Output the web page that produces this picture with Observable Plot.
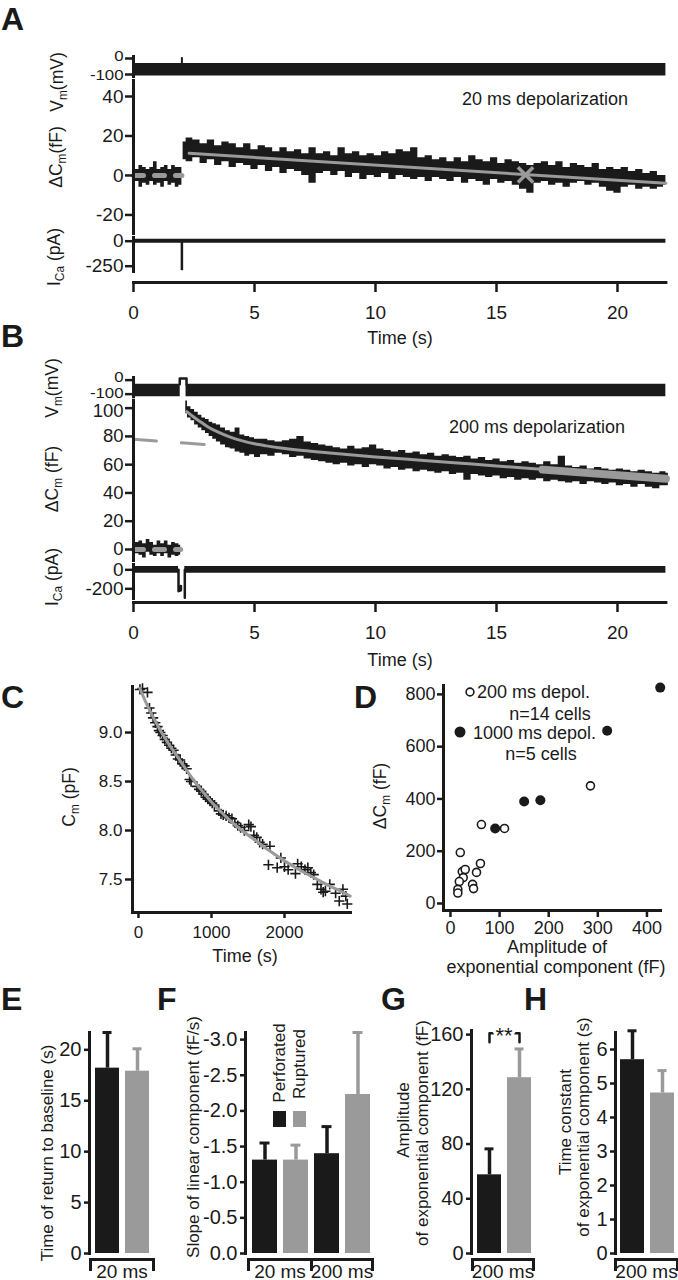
<!DOCTYPE html>
<html><head><meta charset="utf-8">
<script src="https://cdn.jsdelivr.net/npm/d3@7"></script>
<script src="https://cdn.jsdelivr.net/npm/@observablehq/plot@0.6"></script>
<style>
body{margin:0;background:#fff;}
#fig{position:relative;width:678px;height:1280px;overflow:hidden;font-family:"Liberation Sans",Arial,Helvetica,sans-serif;color:#1a1a1a;background:#fff;}
.lbl{position:absolute;white-space:nowrap;line-height:1;}
.lbl sub{font-size:0.68em;vertical-align:-0.3em;line-height:0;}
.sq{position:absolute;}
</style></head>
<body><div id="fig"></div>
<script>
// ---------------- DATA ----------------
const timeTicks = [0, 5, 10, 15, 20];
// Panel A (20 ms depolarization)
const vmA = [[0, -110, -32], [22, -110, -32]];
const vmSpikeA = [[2.0, -40, 5]];
const cmBaseA = [[0,-5,4],[0.15,-3,3],[0.3,-6,5],[0.45,-4,4],[0.6,-5,3],[0.75,-3,4],[0.9,-5,7],[1.05,-4,3],[1.2,-6,4],[1.35,-3,5],[1.5,-5,3],[1.65,-4,5],[1.8,-6,4],[1.95,-5,4],[2.0,-5,4]];
const cmPostA = [[2.05,8,17],[2.3,7,19],[2.6,9,18],[2.9,6,16],[3.2,8,18],[3.5,5,15],[3.8,7,17],[4.1,4,16],[4.4,6,14],[4.7,5,16],[5.0,3,13],[5.3,5,15],[5.6,2,14],[5.9,4,12],[6.2,1,14],[6.5,3,12],[6.8,2,13],[7.1,0,11],[7.4,-4,14],[7.7,1,11],[8.0,2,12],[8.3,0,10],[8.6,2,14],[8.9,-1,11],[9.2,1,12],[9.5,-2,10],[9.8,0,11],[10.1,-1,10],[10.4,1,12],[10.7,-2,11],[11.0,0,13],[11.3,-1,12],[11.6,-2,14],[11.9,-1,9],[12.2,-3,10],[12.5,-1,8],[12.8,-2,9],[13.1,-3,7],[13.4,-1,9],[13.7,-4,7],[14.0,-2,10],[14.3,-3,8],[14.6,-5,7],[14.9,-2,9],[15.2,-4,6],[15.5,-3,8],[15.8,-5,7],[16.1,-7,6],[16.4,-9,5],[16.7,-4,6],[17.0,-3,7],[17.3,-5,5],[17.6,-4,7],[17.9,-6,4],[18.2,-4,6],[18.5,-3,5],[18.8,-5,4],[19.1,-4,6],[19.4,-6,3],[19.7,-8,4],[20.0,-9,3],[20.3,-6,4],[20.6,-5,2],[20.9,-7,3],[21.2,-6,1],[21.5,-7,2],[21.8,-6,0],[22.0,-5,0]];
const cmBaseFitA = [[0, 0], [2.0, 0]];
const cmFitA = [[2.3, 11.2], [22, -4.0]];
const cmCrossA = [[16.2, 0.3]];
const icaA = [[0, -20, 20], [22, -20, 20]];
const icaSpikeA = [[2.0, -295, 0]];
// Panel B (200 ms depolarization)
const vmB1 = [[0, -118, -30], [1.93, -118, -30]];
const vmB2 = [[2.17, -118, -30], [22, -118, -30]];
const vmPulseB = [[1.91, -30], [1.91, 12], [2.19, 12], [2.19, -30]];
const cmBaseB = [[0,-5,3],[0.15,-3,5],[0.3,-4,6],[0.45,-6,4],[0.6,-2,7],[0.75,-4,5],[0.9,-5,3],[1.05,-3,6],[1.2,-5,4],[1.35,-3,6],[1.5,-6,3],[1.65,-4,5],[1.8,-5,4],[1.95,-4,3]];
const cmPostB = [[2.16,96,105],[2.3,93,101],[2.45,91,99],[2.6,88,97],[2.75,86,95],[2.9,84,93],[3.05,82,92],[3.2,80,90],[3.35,78,89],[3.5,76,88],[3.7,74,86],[3.9,72,84],[4.1,71,83],[4.3,69,86],[4.5,68,81],[4.7,66,80],[4.9,67,79],[5.1,65,78],[5.4,67,78],[5.7,66,77],[6.0,68,76],[6.3,67,77],[6.6,65,78],[6.9,66,80],[7.2,64,76],[7.5,63,75],[7.8,62,74],[8.1,61,73],[8.4,60,72],[8.7,61,71],[9.0,59,73],[9.3,60,71],[9.6,58,72],[9.9,60,74],[10.2,59,71],[10.5,57,70],[10.8,58,69],[11.1,56,70],[11.4,57,68],[11.7,55,69],[12.0,56,67],[12.3,55,68],[12.6,54,66],[12.9,55,67],[13.2,53,66],[13.5,54,65],[13.8,49,66],[14.1,53,64],[14.4,52,65],[14.7,51,63],[15.0,52,64],[15.3,50,62],[15.6,51,63],[15.9,49,61],[16.2,50,62],[16.5,49,61],[16.8,50,60],[17.1,48,62],[17.4,49,60],[17.7,48,66],[18.0,47,59],[18.3,48,58],[18.6,46,59],[18.9,48,57],[19.2,47,58],[19.5,46,57],[19.8,47,56],[20.1,45,57],[20.4,46,56],[20.7,44,55],[21.0,46,56],[21.3,44,55],[21.6,43,54],[21.9,45,55],[22.1,45,54]];
const cmBaseFitB = [[0, 0], [1.95, 0]];
const cmLinFitB = [[0, 78], [22, 50]];
const cmExpFitB = [[2.2,97.5],[2.5,93.5],[2.8,90],[3.1,86.5],[3.5,83],[4.0,79.5],[4.5,76.8],[5.0,74.8],[5.5,73.3],[6.0,72],[7.0,70],[8.0,68.4],[10,65.5],[12,63],[14,60.4],[16,57.8],[18,55.2],[20,52.6],[22,50.0]];
const cmTailB = [[16.9, 56.5], [22, 50]];
const icaB1 = [[0, -35, 35], [1.86, -35, 35]];
const icaB2 = [[2.12, -35, 35], [22, -35, 35]];
const icaPulseB1 = [[1.86, 0], [1.86, -225], [1.96, -215], [1.96, -170]];
const icaPulseB2 = [[2.12, -295], [2.12, 0]];
// Panel C
const cPoints = [[20,9.44],[55,9.45],[123,9.41],[150,9.25],[175,9.2],[200,9.15],[230,9.1],[260,9.06],[280,9.02],[300,9.0],[330,8.97],[360,8.93],[390,8.9],[420,8.87],[450,8.84],[480,8.82],[510,8.77],[540,8.73],[570,8.72],[600,8.68],[630,8.66],[660,8.63],[700,8.52],[720,8.5],[800,8.45],[830,8.42],[860,8.4],[890,8.37],[920,8.34],[950,8.32],[980,8.3],[1010,8.28],[1040,8.26],[1100,8.2],[1130,8.17],[1160,8.16],[1200,8.15],[1240,8.13],[1280,8.12],[1320,8.08],[1360,8.05],[1400,8.03],[1450,8.0],[1510,8.06],[1540,8.04],[1580,7.95],[1620,7.93],[1660,7.88],[1700,7.86],[1800,7.84],[1780,7.65],[1900,7.62],[1950,7.72],[2000,7.63],[2050,7.6],[2150,7.56],[2180,7.66],[2230,7.63],[2280,7.6],[2320,7.62],[2360,7.57],[2400,7.55],[2450,7.45],[2500,7.4],[2530,7.37],[2560,7.38],[2620,7.45],[2700,7.36],[2750,7.28],[2800,7.4],[2840,7.33],[2860,7.25]];
const cFit = [[20,9.45],[100,9.31],[200,9.16],[300,9.02],[400,8.90],[500,8.79],[600,8.68],[700,8.57],[800,8.47],[900,8.38],[1000,8.29],[1200,8.14],[1400,8.01],[1600,7.90],[1800,7.79],[2000,7.69],[2200,7.60],[2400,7.52],[2600,7.44],[2800,7.37],[2900,7.33]];
const cYTicks = [7.5, 8.0, 8.5, 9.0];
const cXTicks = [0, 1000, 2000];
// Panel D
const dOpen200 = [[285,450],[63,302],[110,287],[20,195],[61,153],[24,122],[30,130],[53,119],[26,99],[18,84],[45,73],[47,57],[15,54],[15,40]];
const dFilled1000 = [[91,287],[150,390],[183,395],[319,661],[427,826]];
const dYTicks = [0, 200, 400, 600, 800];
const dXTicks = [0, 100, 200, 300, 400];
// Panels E-H
const conditions = ["Perforated", "Ruptured"];
const eMean = [18.2, 17.9], eSem = [3.5, 2.2];
const fMean20 = [-1.31, -1.31], fSem20 = [0.24, 0.21];
const fMean200 = [-1.40, -2.23], fSem200 = [0.38, 0.87];
const gMean = [57.5, 128.5], gSem = [19, 21];
const hMean = [5.7, 4.72], hSem = [0.85, 0.66];
const eTicks = [0, 5, 10, 15, 20];
const fTicks = [0, -0.5, -1.0, -1.5, -2.0, -2.5, -3.0];
const gTicks = [0, 40, 80, 120, 160];
const hTicks = [0, 1, 2, 3, 4, 5, 6];

// ---------------- DRAWING ----------------
const W = 678;
const FONT = '"Liberation Sans", Arial, Helvetica, sans-serif';
const INK = "#1a1a1a", GREY = "#9a9a9a";
const fig = document.getElementById("fig");
const baseStyle = {background: "transparent", overflow: "visible", fontFamily: FONT, fontSize: "17px", color: INK};
const num = d => String(d);
const X = d => d[0], Y1 = d => d[1], Y2 = d => d[2], V = d => d[1];

function place(el, top) {
  el.style.position = "absolute"; el.style.left = "0px"; el.style.top = top + "px";
  fig.appendChild(el);
  return el;
}
function label(html, x, y, o = {}) {
  const d = document.createElement("div");
  d.className = "lbl";
  d.innerHTML = html;
  d.style.fontSize = (o.size || 17.5) + "px";
  if (o.bold) d.style.fontWeight = "bold";
  d.style.left = x + "px"; d.style.top = y + "px";
  const tx = o.anchor === "start" ? "0" : o.anchor === "end" ? "-100%" : "-50%";
  d.style.transform = `translate(${tx},-50%)` + (o.rotate ? " rotate(-90deg)" : "");
  fig.appendChild(d);
}
// widen tick labels horizontally (the reference's compact Vm labels are drawn wide)
function stretchTicks(svg, k) {
  svg.querySelectorAll('g[aria-label="y-axis tick label"] text').forEach(t => {
    const w = t.getComputedTextLength();
    if (w > 0) { t.setAttribute("textLength", w * k); t.setAttribute("lengthAdjust", "spacingAndGlyphs"); }
  });
}

// y axis with tick labels that may be nudged per group: groups = [[ticks, dy], ...]
function yAxis(groups, fontSize, tickSize = 8, tickPadding = 2, fmt = num) {
  const all = groups.flatMap(g => g[0]);
  return [
    Plot.axisY({ticks: all, tickSize, strokeWidth: 2.5, tickFormat: () => "", label: null}),
    ...groups.map(([t, dy]) => Plot.axisY({ticks: t, tickSize: 0, tickPadding: tickSize + tickPadding, dy, fontSize, tickFormat: fmt, label: null}))
  ];
}

const TML = 133, TMR = W - 665.4;
function tracePlot(top, height, domain, axisMarks, marks) {
  const p = Plot.plot({
    width: W, height, marginLeft: TML, marginRight: TMR, marginTop: 0, marginBottom: 0,
    x: {domain: [0, 22], axis: null},
    y: {domain},
    style: baseStyle,
    marks: [...marks, Plot.frame({anchor: "left", strokeWidth: 3}), ...axisMarks]
  });
  return place(p, top);
}
function timeAxis(lineY) {
  const p = Plot.plot({
    width: W, height: 51, marginLeft: TML, marginRight: TMR, marginTop: 0, marginBottom: 50,
    x: {domain: [0, 22]},
    style: baseStyle,
    marks: [
      Plot.frame({anchor: "bottom", strokeWidth: 3}),
      Plot.axisX({ticks: timeTicks, tickSize: 10, tickPadding: 13, strokeWidth: 2.5, fontSize: 19, tickFormat: num, label: null})
    ]
  });
  place(p, lineY - 1);
}
const band = (data, extra = {}) => Plot.areaY(data, {x: X, y1: Y1, y2: Y2, curve: "step", fill: INK, ...extra});

// ---- Panel A ----
stretchTicks(tracePlot(56, 20, [-112.5, 12.5], yAxis([[[0], -1.5], [[-100], 1.5]], 14), [
  band(vmA),
  Plot.ruleX(vmSpikeA, {x: X, y1: Y1, y2: Y2, strokeWidth: 2, stroke: INK})
]), 1.2);
tracePlot(80, 153, [-29.4, 48.1], yAxis([[[-20, 0, 20, 40], 0]], 19), [
  band(cmBaseA),
  band(cmPostA),
  Plot.line(cmBaseFitA, {x: X, y: V, stroke: GREY, strokeWidth: 5, strokeDasharray: "10,11"}),
  Plot.line(cmFitA, {x: X, y: V, stroke: GREY, strokeWidth: 3}),
  Plot.dot(cmCrossA, {x: X, y: V, symbol: "times", r: 7, stroke: GREY, strokeWidth: 3.5})
]);
tracePlot(237, 34, [-303, 37], yAxis([[[0, -250], 0]], 19), [
  band(icaA),
  Plot.ruleX(icaSpikeA, {x: X, y1: Y1, y2: Y2, strokeWidth: 2.5, stroke: INK})
]);
timeAxis(282);

// ---- Panel B ----
stretchTicks(tracePlot(376.7, 19.3, [-119, 18.6], yAxis([[[0], -3], [[-100], -1]], 14), [
  band(vmB1), band(vmB2),
  Plot.line(vmPulseB, {x: X, y: V, stroke: INK, strokeWidth: 2.5})
]), 1.2);
tracePlot(400, 160, [-7.8, 105.4], yAxis([[[0, 20, 40, 60, 80], 0], [[100], 3]], 18.5), [
  Plot.line(cmLinFitB, {x: X, y: V, stroke: GREY, strokeWidth: 3, strokeDasharray: "23,25"}),
  band(cmBaseB),
  band(cmPostB),
  Plot.line(cmBaseFitB, {x: X, y: V, stroke: GREY, strokeWidth: 5, strokeDasharray: "10,11"}),
  Plot.line(cmExpFitB, {x: X, y: V, stroke: GREY, strokeWidth: 3, curve: "monotone-x"}),
  Plot.line(cmTailB, {x: X, y: V, stroke: GREY, strokeWidth: 8})
]);
tracePlot(564, 34, [-302, 56], yAxis([[[0, -200], 0]], 19), [
  band(icaB1), band(icaB2),
  Plot.line(icaPulseB1, {x: X, y: V, stroke: INK, strokeWidth: 2.5}),
  Plot.line(icaPulseB2, {x: X, y: V, stroke: INK, strokeWidth: 2.5})
]);
timeAxis(602);

// ---- Panel C ----
place(Plot.plot({
  width: W, height: 276, marginLeft: 132, marginRight: W - 350, marginTop: 0, marginBottom: 50,
  x: {domain: [-82, 2904]},
  y: {domain: [7.163, 9.47]},
  style: baseStyle,
  marks: [
    Plot.dot(cPoints, {x: X, y: V, symbol: "plus", r: 3.4, stroke: INK, strokeWidth: 1.6}),
    Plot.line(cFit, {x: X, y: V, stroke: GREY, strokeWidth: 3, curve: "monotone-x"}),
    Plot.frame({anchor: "left", strokeWidth: 3}),
    Plot.frame({anchor: "bottom", strokeWidth: 3}),
    Plot.axisY({ticks: cYTicks, tickSize: 7, tickPadding: 3, strokeWidth: 2.5, fontSize: 17, tickFormat: d => d.toFixed(1), label: null}),
    Plot.axisX({ticks: cXTicks, tickSize: 6, tickPadding: 7, strokeWidth: 2.5, fontSize: 17, tickFormat: num, label: null})
  ]
}), 686);

// ---- Panel D ----
place(Plot.plot({
  width: W, height: 270, marginLeft: 443, marginRight: W - 660, marginTop: 0, marginBottom: 45,
  x: {domain: [-14.2, 427.6]},
  y: {domain: [-26.8, 834]},
  style: baseStyle,
  marks: [
    Plot.frame({anchor: "left", strokeWidth: 3}),
    Plot.frame({anchor: "bottom", strokeWidth: 3}),
    Plot.axisY({ticks: dYTicks, tickSize: 6, tickPadding: 2, strokeWidth: 2.5, fontSize: 18, tickFormat: num, label: null}),
    Plot.axisX({ticks: dXTicks, tickSize: 7, tickPadding: 4, strokeWidth: 2.5, fontSize: 18, tickFormat: num, label: null}),
    Plot.dot(dOpen200, {x: X, y: V, r: 4, stroke: INK, strokeWidth: 1.6, fill: "white"}),
    Plot.dot(dFilled1000, {x: X, y: V, r: 5, fill: INK})
  ]
}), 685);

// ---- Bar panels ----
function rows(group, means, sems) {
  return conditions.map((c, i) => ({key: group + " " + c, cond: c, mean: means[i],
    top: means[i] + Math.sign(means[i]) * sems[i]}));
}
function barPlot(top, left, right, domain, ticks, data, tickFormat, extra = []) {
  const p = Plot.plot({
    width: W, height: 1253 - top, marginLeft: left, marginRight: W - right, marginTop: 0, marginBottom: 0,
    x: {domain: data.map(d => d.key), paddingInner: 0.2, paddingOuter: 0.15, axis: null},
    y: {domain},
    color: {domain: conditions, range: [INK, GREY]},
    style: baseStyle,
    marks: [
      Plot.ruleX(data, {x: "key", y1: "mean", y2: "top", stroke: "cond", strokeWidth: 3.5}),
      Plot.tickY(data, {x: "key", y: "top", stroke: "cond", strokeWidth: 3, insetLeft: 7.5, insetRight: 7.5}),
      Plot.barY(data, {x: "key", y: "mean", fill: "cond"}),
      Plot.frame({anchor: "left", strokeWidth: 3}),
      Plot.axisY({ticks, tickSize: 5, tickPadding: 3, strokeWidth: 2.5, fontSize: 20, tickFormat, label: null}),
      ...extra
    ]
  });
  place(p, top);
}
function bracket(text, x0, x1) {
  const p = Plot.plot({
    width: W, height: 30, marginLeft: x0, marginRight: W - x1, marginTop: 0, marginBottom: 20,
    style: baseStyle,
    marks: [
      Plot.frame({anchor: "top", strokeWidth: 3}),
      Plot.frame({anchor: "left", strokeWidth: 3}),
      Plot.frame({anchor: "right", strokeWidth: 3}),
      Plot.text([text], {text: d => d, frameAnchor: "bottom", dy: 8, fontSize: 19})
    ]
  });
  place(p, 1259);
}

barPlot(1032, 89, 154, [0, 21.7], eTicks, rows("20 ms", eMean, eSem), num);
bracket("20 ms", 90, 153);

barPlot(1032, 245, 376, [0, -3.1], fTicks,
  [...rows("20 ms", fMean20, fSem20), ...rows("200 ms", fMean200, fSem200)], d => d.toFixed(1));
bracket("20 ms", 248, 311);
bracket("200 ms", 311, 372);

const gRows = rows("200 ms", gMean, gSem);
const sigG = [{key: gRows[0].key, v: 154.5}, {key: gRows[0].key, v: 161}, {key: gRows[1].key, v: 161}, {key: gRows[1].key, v: 154.5}];
barPlot(1030, 471, 536, [0, 163], gTicks, gRows, num, [
  Plot.line(sigG, {x: "key", y: "v", stroke: INK, strokeWidth: 2.5}),
  Plot.text(["**"], {text: d => d, frameAnchor: "top", lineAnchor: "top", dy: -3, fontSize: 22, fill: INK, stroke: "white", strokeWidth: 6, paintOrder: "stroke"})
]);
bracket("200 ms", 472, 533);

barPlot(1032, 615, 678, [0, 6.5], hTicks, rows("200 ms", hMean, hSem), num);
bracket("200 ms", 615, 677);

// ---------------- TEXT ----------------
const L = (t, x, y) => label(t, x, y, {size: 32, bold: true, anchor: "start"});
L("A", 1, 18.5); L("B", 1, 335.5); L("C", 1, 696.5); L("D", 354, 696.5);
L("E", 1, 998.5); L("F", 157, 998.5); L("G", 381, 998.5); L("H", 524, 998.5);

const R = (t, x, y, s) => label(t, x, y, {rotate: true, size: s || 17.5});
R("V<sub>m</sub>(mV)", 58, 82); R("ΔC<sub>m</sub>(fF)", 57, 157); R("I<sub>Ca</sub> (pA)", 55, 257);
R("V<sub>m</sub>(mV)", 53, 388); R("ΔC<sub>m</sub> (fF)", 53, 479); R("I<sub>Ca</sub> (pA)", 53, 577);
R("C<sub>m</sub> (pF)", 70, 797); R("ΔC<sub>m</sub> (fF)", 381, 796);
R("Time of return to baseline (s)", 47, 1153, 17);
R("Slope of linear component (fF/s)", 193, 1137, 17);
R("Amplitude", 403, 1120, 17); R("of exponential component (fF)", 422, 1133, 17);
R("Time constant", 565, 1122, 17); R("of exponential component (s)", 583, 1127, 17);
R("Perforated", 278.5, 1063, 17); R("Ruptured", 298.5, 1064, 17);

label("20 ms depolarization", 462, 99, {anchor: "start", size: 18});
label("200 ms depolarization", 449, 427, {anchor: "start", size: 18});
label("Time (s)", 400, 338, {size: 18});
label("Time (s)", 400, 660, {size: 18});
label("Time (s)", 245, 956, {size: 18});
label("Amplitude of", 557, 947, {size: 18});
label("exponential component (fF)", 556, 966.5, {size: 18});
// D legend
label('<svg width="10" height="10" style="display:block"><circle cx="5" cy="5" r="3.9" fill="white" stroke="#1a1a1a" stroke-width="1.6"/></svg>', 465, 692, {anchor: "start"});
label("200 ms depol.", 477, 692, {anchor: "start", size: 18});
label("n=14 cells", 550, 713.5, {size: 18});
label('<svg width="12" height="12" style="display:block"><circle cx="6" cy="6" r="5.5" fill="#1a1a1a"/></svg>', 454, 732, {anchor: "start"});
label("1000 ms depol.", 473, 733, {anchor: "start", size: 18});
label("n=5 cells", 541, 753.5, {size: 18});
// F legend squares
function sq(x, y, w, h, c) { const d = document.createElement("div"); d.className = "sq";
  Object.assign(d.style, {left: x + "px", top: y + "px", width: w + "px", height: h + "px", background: c}); fig.appendChild(d); }
sq(273, 1111, 13, 16, INK); sq(293, 1111, 13, 16, GREY);
</script>
</body></html>
